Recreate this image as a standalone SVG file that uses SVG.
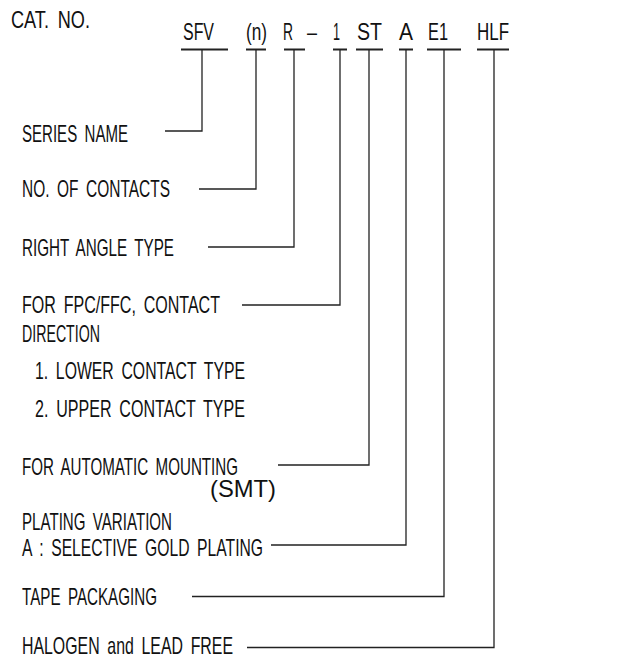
<svg xmlns="http://www.w3.org/2000/svg" width="630" height="661" viewBox="0 0 630 661">
<style>
text{font-family:"Liberation Sans",Arial,sans-serif;font-size:24px;fill:#111;word-spacing:5px;}
.ln{fill:none;stroke:#222;stroke-width:1.3;}
.ul{fill:none;stroke:#222;stroke-width:2;}
</style>
<rect width="630" height="661" fill="#fff"/>
<g id="title"><text x="11" y="27.5" textLength="79" lengthAdjust="spacingAndGlyphs">CAT. NO.</text></g>
<g id="codes">
<text x="183" y="39.5" textLength="31" lengthAdjust="spacingAndGlyphs">SFV</text>
<text x="246" y="39.5" textLength="21" lengthAdjust="spacingAndGlyphs">(n)</text>
<text x="283" y="39.5" textLength="10" lengthAdjust="spacingAndGlyphs">R</text>
<text x="307" y="39.5" textLength="10" lengthAdjust="spacingAndGlyphs">–</text>
<text x="333" y="39.5" textLength="7" lengthAdjust="spacingAndGlyphs">1</text>
<text x="357" y="39.5" textLength="25" lengthAdjust="spacingAndGlyphs">ST</text>
<text x="399" y="39.5" textLength="14" lengthAdjust="spacingAndGlyphs">A</text>
<text x="428" y="39.5" textLength="20" lengthAdjust="spacingAndGlyphs">E1</text>
<text x="477" y="39.5" textLength="32" lengthAdjust="spacingAndGlyphs">HLF</text>
</g>
<g id="n-series"><text x="22" y="141.5" textLength="106" lengthAdjust="spacingAndGlyphs">SERIES NAME</text></g>
<g id="n-contacts"><text x="22" y="196.5" textLength="148" lengthAdjust="spacingAndGlyphs">NO. OF CONTACTS</text></g>
<g id="n-right"><text x="22" y="255.5" textLength="152" lengthAdjust="spacingAndGlyphs">RIGHT ANGLE TYPE</text></g>
<g id="n-fpc">
<text x="22" y="313" textLength="198" lengthAdjust="spacingAndGlyphs">FOR FPC/FFC, CONTACT</text>
<text x="22" y="341.5" textLength="78" lengthAdjust="spacingAndGlyphs">DIRECTION</text>
<text x="35" y="378.5" textLength="210" lengthAdjust="spacingAndGlyphs">1. LOWER CONTACT TYPE</text>
<text x="35" y="417" textLength="210" lengthAdjust="spacingAndGlyphs">2. UPPER CONTACT TYPE</text>
</g>
<g id="n-smt">
<text x="22" y="475" textLength="216" lengthAdjust="spacingAndGlyphs">FOR AUTOMATIC MOUNTING</text>
<text x="210" y="497" textLength="66" lengthAdjust="spacingAndGlyphs">(SMT)</text>
</g>
<g id="n-plating">
<text x="22" y="530" textLength="150" lengthAdjust="spacingAndGlyphs">PLATING VARIATION</text>
<text x="22" y="555.5" textLength="241" lengthAdjust="spacingAndGlyphs">A : SELECTIVE GOLD PLATING</text>
</g>
<g id="n-tape"><text x="22" y="605" textLength="135" lengthAdjust="spacingAndGlyphs">TAPE PACKAGING</text></g>
<g id="n-hlf"><text x="22" y="654" textLength="211" lengthAdjust="spacingAndGlyphs">HALOGEN and LEAD FREE</text></g>
<g id="connectors">
<path class="ul" d="M181 49.5H228M246 49.5H266M284 49.5H305M333 49.5H347M356 49.5H383M399 49.5H413M427 49.5H461M477 49.5H509"/>
<path class="ln" d="M202 49.5V131H165"/>
<path class="ln" d="M256 49.5V189H199"/>
<path class="ln" d="M294 49.5V247H208"/>
<path class="ln" d="M340 49.5V305H242"/>
<path class="ln" d="M369 49.5V465H278"/>
<path class="ln" d="M406 49.5V545H271"/>
<path class="ln" d="M444 49.5V596.5H192"/>
<path class="ln" d="M494 49.5V647.5H247"/>
</g>
</svg>
